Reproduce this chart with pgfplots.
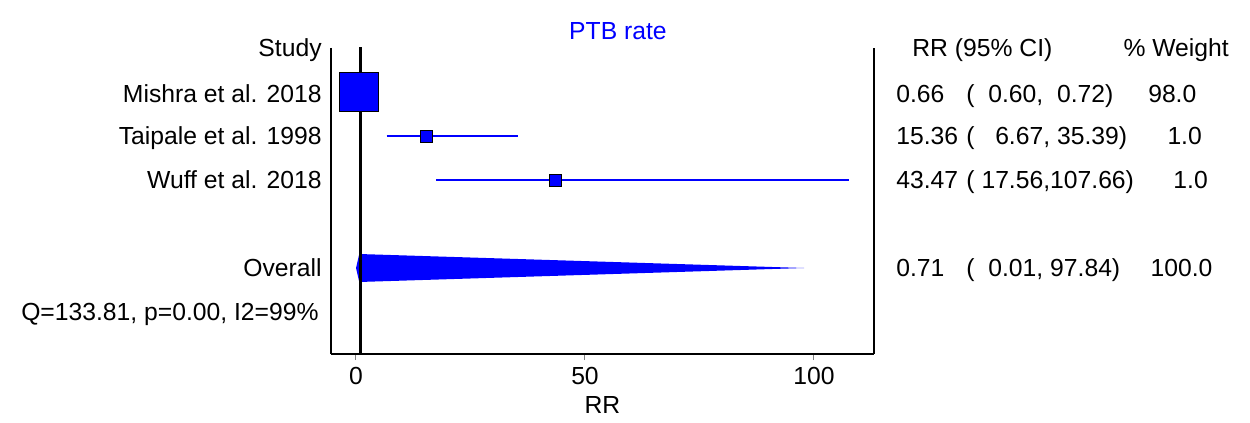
\documentclass[border=0pt]{standalone}
\usepackage{fontspec}
\setmainfont{Liberation Sans}
\usepackage{pgfplots}
\pgfplotsset{compat=1.18}
\definecolor{fblue}{RGB}{0,0,255}

\begin{document}
\begin{tikzpicture}[font=\fontsize{12.35}{14.8}\selectfont, txt/.style={inner sep=0pt}]
\begin{axis}[
    scale only axis,
    width=271.5pt, height=153pt,
    xmin=-5.459, xmax=113.1,
    ymin=0, ymax=6.9545,
    y dir=reverse,
    clip=false,
    axis x line=bottom, axis y line=left,
    axis line style={-, line width=1pt},
    ytick=\empty,
    xtick={0,50,100},
    tick align=outside,
    major tick length=3pt,
    tick style={gray, line width=0.5pt},
    /pgf/number format/assume math mode=true,
    xlabel={RR},
    xlabel style={yshift=1pt},
]
% right frame line
\draw[line width=1pt] (rel axis cs:1,0) -- (rel axis cs:1,1);

% confidence intervals
\addplot[fblue, line width=1pt] coordinates {(0.60,1) (0.72,1)};
\addplot[fblue, line width=1pt] coordinates {(6.67,2) (35.39,2)};
\addplot[fblue, line width=1pt] coordinates {(17.56,3) (107.66,3)};

% point estimates, box size by weight
\addplot[only marks, mark=square*, mark size=9.7pt,
    mark options={fill=fblue, draw=black, line width=0.4pt}] coordinates {(0.66,1)};
\addplot[only marks, mark=square*, mark size=3pt,
    mark options={fill=fblue, draw=black, line width=0.4pt}] coordinates {(15.36,2) (43.47,3)};

% overall diamond
\addplot[fill=fblue, draw=none] coordinates {(0.01,5) (0.71,4.682) (97.84,5) (0.71,5.318)} -- cycle;

% null line
\addplot[black, line width=1.1pt] coordinates {(1,-0.02) (1,6.9545)};

% title
\node[txt, anchor=base, text=fblue] at (axis cs:57.2,-0.2) {PTB rate};

% left column
\node[txt, anchor=base east] at (axis cs:-7.42,0.2) {Study};
\node[txt, anchor=base east] at (axis cs:-7.42,1.25) {Mishra et al. 2018};
\node[txt, anchor=base east] at (axis cs:-7.42,2.2) {Taipale et al. 1998};
\node[txt, anchor=base east] at (axis cs:-7.42,3.2) {Wuff et al. 2018};
\node[txt, anchor=base east] at (axis cs:-7.42,5.2) {Overall};
\node[txt, anchor=base east] at (axis cs:-8.08,6.2) {Q=133.81, p=0.00, I2=99\%};

% right columns
\node[txt, anchor=base west] at (axis cs:121.4,0.2) {RR (95\% CI)};
\node[txt, anchor=base west] at (axis cs:167.5,0.2) {\% Weight};

\node[txt, anchor=base west] at (axis cs:117.9,1.25) {0.66};
\node[txt, anchor=base west] at (axis cs:133.2,1.25) {(\ \ 0.60,\ \ 0.72)};
\node[txt, anchor=base west] at (axis cs:172.9,1.25) {98.0};

\node[txt, anchor=base west] at (axis cs:117.9,2.2) {15.36};
\node[txt, anchor=base west] at (axis cs:133.2,2.2) {(\ \ \ 6.67, 35.39)};
\node[txt, anchor=base west] at (axis cs:177.1,2.2) {1.0};

\node[txt, anchor=base west] at (axis cs:117.9,3.2) {43.47};
\node[txt, anchor=base west] at (axis cs:133.2,3.2) {( 17.56,107.66)};
\node[txt, anchor=base west] at (axis cs:178.4,3.2) {1.0};

\node[txt, anchor=base west] at (axis cs:117.9,5.2) {0.71};
\node[txt, anchor=base west] at (axis cs:133.2,5.2) {(\ \ 0.01, 97.84)};
\node[txt, anchor=base west] at (axis cs:173.4,5.2) {100.0};

% page extent
\path (axis cs:-77.73,-1.0909) rectangle (axis cs:195.2,8.5227);
\end{axis}
\end{tikzpicture}
\end{document}
